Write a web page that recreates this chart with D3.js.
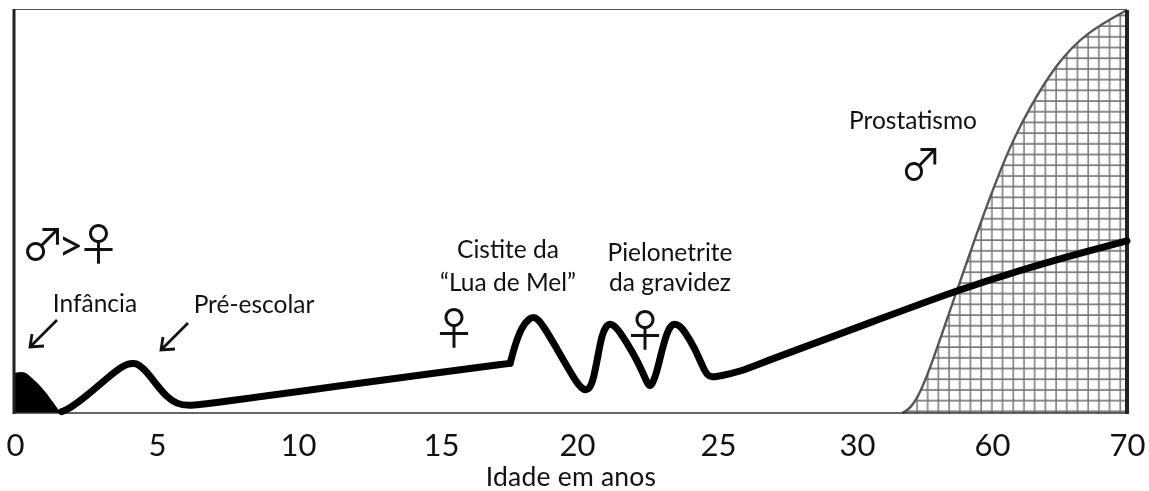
<!DOCTYPE html>
<html><head><meta charset="utf-8">
<script src="https://cdn.jsdelivr.net/npm/d3@7"></script>
<style>html,body{margin:0;padding:0;background:#fff}svg{display:block;filter:blur(0.45px)}text{font-family:Lato,sans-serif;fill:#111}</style>
</head><body><svg id="c" width="1149" height="491"></svg>
<script>
const tickLabels = [0,5,10,15,20,25,30,60,70];
const tickPixels = [15,157,298,441,577,718,857,992,1127];
const infantAge = [0,0.25,0.75,1.55];
const infantVal = [10,10.2,7.7,0.6];
const lineAgeA = [1.64,1.88,2.52,3.23,3.75,3.99,4.17,4.34,4.64,4.99,5.34,5.70,6.11,6.76,11.49,15,17.54];
const lineValA = [0.33,0.91,4.22,8.6,11.5,12.24,12.32,12.16,10.26,6.95,4.05,2.23,1.74,2.23,6.78,10.1,12.32];
const lineAgeB = [17.54,17.72,17.97,18.25,18.39,18.54,18.82,19.25,19.68,19.99,20.17,20.31,20.45,20.58,20.76,20.88,21.03,21.17,21.31,21.52,22,22.35,22.49,22.59,22.68,22.82,23,23.18,23.33,23.47,23.62,23.83,24.18,24.48,24.62,24.78,25.07,25.79,26.51,35.1,52.2,64.07,70];
const lineValB = [12.32,16.87,21.42,23.49,23.82,23.49,21.01,16.05,11.08,7.53,6.12,5.62,6.12,8.19,14.8,19.35,21.59,22.17,21.75,20.18,14.8,9.84,7.36,6.53,7.36,9.84,15.22,19.77,21.75,22.17,21.75,20.18,16.05,11.08,9.43,8.85,9.18,10.25,12.32,23.3,30.5,37.5,42.7];
const prostAge = [40,41.2,43.3,46.2,52.2,56.9,59.6,61.3,62.8,64.8,67,70];
const prostVal = [0,0.6,3.2,10.7,30.5,45.4,53.7,66,75.9,86.8,94.5,100];

const svg = d3.select('#c');
const x = d3.scaleLinear().domain(tickLabels).range(tickPixels);
const y = d3.scaleLinear().domain([0,100]).range([413,10]);
const pts=(a,v)=>a.map((d,i)=>[x(d),y(v[i])]);
const line=d3.line().curve(d3.curveBasis);
const area=(a,v,c)=>d3.area().x(d=>d[0]).y0(y(0)).y1(d=>d[1]).curve(c)(pts(a,v));

const defs=svg.append('defs');
const pat=defs.append('pattern').attr('id','grid').attr('patternUnits','userSpaceOnUse')
  .attr('width',10.7).attr('height',10.7).attr('x',927.7-5).attr('y',400.7-5);
pat.append('path').attr('d','M5,0V10.7M0,5H10.7').attr('stroke','#777').attr('stroke-width',1.5).attr('fill','none');

svg.append('path').attr('d',area(prostAge,prostVal,d3.curveBasis)).attr('fill','url(#grid)');
svg.append('path').attr('d',line(pts(prostAge,prostVal))).attr('fill','none').attr('stroke','#555').attr('stroke-width',2.4);
svg.append('path').attr('d',area(infantAge,infantVal,d3.curveMonotoneX)).attr('fill','#000');

// frame
svg.append('line').attr('x1',x(0)-1).attr('x2',x(70)).attr('y1',y(100)-0.5).attr('y2',y(100)-0.5).attr('stroke','#555').attr('stroke-width',1);
svg.append('line').attr('x1',x(0)-1).attr('x2',x(70)).attr('y1',y(0)).attr('y2',y(0)).attr('stroke','#333').attr('stroke-width',1.6);
svg.append('line').attr('x1',x(0)-1).attr('x2',x(0)-1).attr('y1',y(100)-1).attr('y2',y(0)+1).attr('stroke','#222').attr('stroke-width',3);
svg.append('line').attr('x1',x(70)).attr('x2',x(70)).attr('y1',y(100)).attr('y2',y(0)+1).attr('stroke','#222').attr('stroke-width',4);

[[lineAgeA,lineValA],[lineAgeB,lineValB]].forEach(([a,v])=>{
  svg.append('path').attr('d',line(pts(a,v))).attr('fill','none').attr('stroke','#000')
    .attr('stroke-width',7).attr('stroke-linejoin','round').attr('stroke-linecap','round');
});

// axis
const axis=d3.axisBottom(x).tickValues(tickLabels).tickSize(0).tickPadding(0).tickFormat(d3.format('d'));
const g=svg.append('g').attr('transform','translate(0,433)').call(axis);
g.select('.domain').remove();
g.selectAll('text').attr('font-size',31).style('font-family','Lato,sans-serif').attr('fill','#111').attr('y',0).attr('dy','0.73em');

const T=(s,px,py,fs,anc='middle')=>svg.append('text').attr('x',px).attr('y',py).attr('font-size',fs).attr('text-anchor',anc).text(s);
T('Idade em anos',571,486.2,26.5).style('letter-spacing','0.2px');
T('Infância',95,312,24.5);
T('Pré-escolar',254,313,24.5);
T('Cistite da',508,258,24.5);
T('“Lua de Mel”',508,291,24.5);
T('Pielonetrite',670,261,24.5);
T('da gravidez',670,291,24.5);
T('Prostatismo',913,129,24.5);

const CJK='"Noto Sans CJK SC"';
const S=(s,px,py,fs)=>svg.append('text').attr('x',px).attr('y',py).attr('font-size',fs).attr('text-anchor','middle').style('font-family',CJK).text(s);
svg.append('text').attr('x',21).attr('y',261).attr('font-size',44)
  .style('font-family','Lato,'+CJK).style('letter-spacing','-7px').text('♂>♀');
S('♀',454,345,44);
S('♀',645,347,44);
S('♂',921,180,42);

// arrows
[[57,320,30,347],[188,323,161,350]].forEach(([x1,y1,x2,y2])=>{
  svg.append('path').attr('d',`M${x1},${y1}L${x2},${y2}M${x2+2},${y2-13}L${x2},${y2}L${x2+14},${y2-1}`)
    .attr('fill','none').attr('stroke','#111').attr('stroke-width',2.8);
});
</script></body></html>
